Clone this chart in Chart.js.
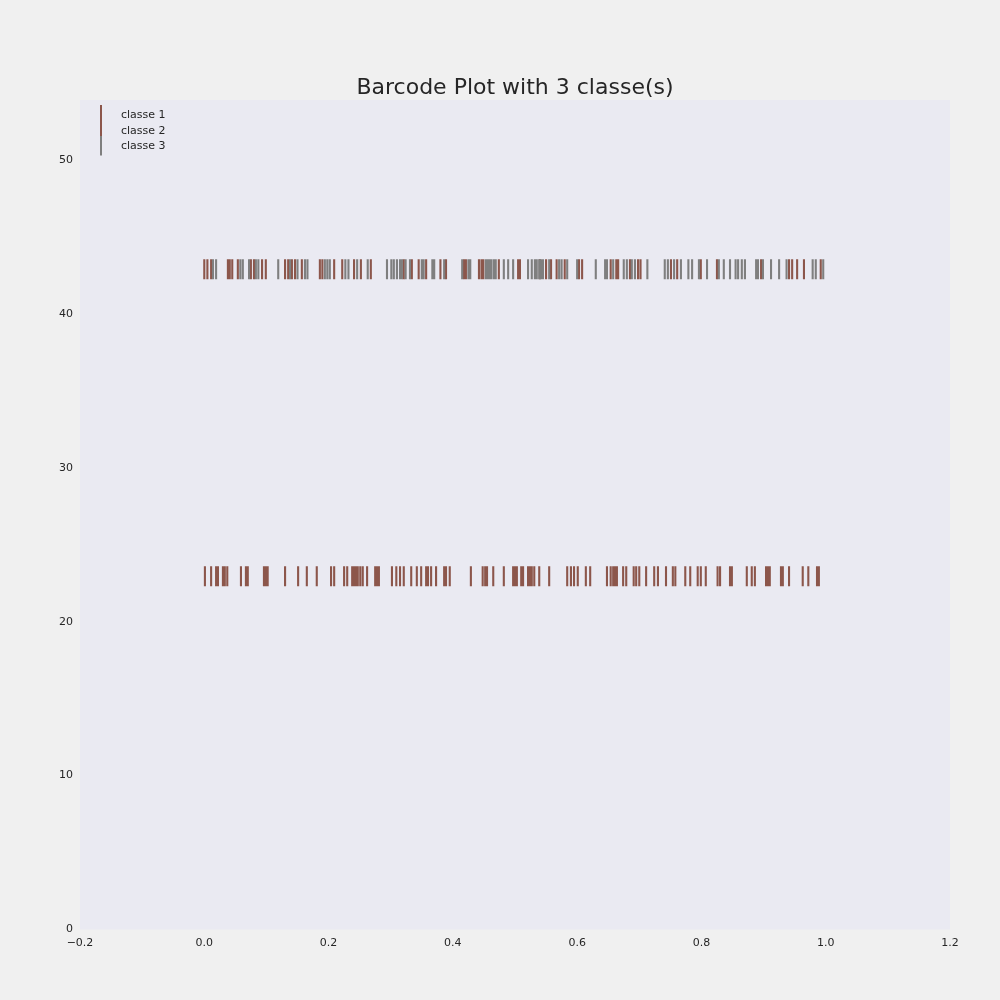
<!DOCTYPE html>
<html>
<head>
<meta charset="utf-8">
<script src="https://cdn.jsdelivr.net/npm/chart.js@4.4.1/dist/chart.umd.min.js"></script>
<style>
html,body{margin:0;padding:0;background:#f0f0f0;}
#wrap{width:1000px;height:1000px;position:relative;}
</style>
</head>
<body>
<div id="wrap"><canvas id="c" width="1000" height="1000"></canvas></div>
<script>
const titleText = "Barcode Plot with 3 classe(s)";
const classNames = ["classe 1", "classe 2", "classe 3"];
const classColors = ["#8c564b", "#8c564b", "#7f7f7f"];
const rowCenters = [22.95, 42.9, 42.9];
const rowLength = 1.3;
const xTicks = [-0.2, 0.0, 0.2, 0.4, 0.6, 0.8, 1.0, 1.2];
const yTicks = [0, 10, 20, 30, 40, 50];

const classe1 = [0.001,0.011,0.019,0.022,0.030,0.033,0.037,0.059,0.067,0.070,0.096,0.099,0.102,0.130,0.151,0.165,0.181,0.204,0.209,0.225,0.230,0.238,0.241,0.244,0.247,0.251,0.255,0.262,0.275,0.278,0.281,0.302,0.309,0.315,0.321,0.333,0.342,0.349,0.357,0.360,0.365,0.373,0.386,0.389,0.395,0.429,0.448,0.452,0.455,0.465,0.482,0.497,0.500,0.503,0.510,0.513,0.521,0.524,0.527,0.531,0.539,0.555,0.584,0.590,0.595,0.601,0.614,0.621,0.648,0.654,0.658,0.661,0.664,0.674,0.679,0.691,0.695,0.700,0.711,0.724,0.730,0.743,0.754,0.758,0.774,0.782,0.794,0.799,0.807,0.826,0.830,0.846,0.849,0.873,0.881,0.886,0.904,0.907,0.910,0.928,0.931,0.941,0.963,0.972,0.986,0.989];
const classe2 = [0.000,0.005,0.011,0.038,0.041,0.045,0.054,0.075,0.080,0.093,0.099,0.130,0.135,0.141,0.146,0.157,0.186,0.190,0.209,0.222,0.241,0.252,0.268,0.321,0.334,0.345,0.357,0.380,0.389,0.418,0.421,0.442,0.446,0.449,0.474,0.505,0.508,0.540,0.550,0.558,0.567,0.580,0.603,0.608,0.654,0.663,0.666,0.685,0.698,0.702,0.751,0.761,0.799,0.825,0.896,0.941,0.946,0.954,0.965,0.992];
const classe3 = [0.014,0.019,0.058,0.062,0.072,0.083,0.087,0.119,0.138,0.150,0.162,0.166,0.194,0.198,0.202,0.227,0.232,0.246,0.263,0.294,0.301,0.305,0.310,0.315,0.318,0.324,0.331,0.350,0.353,0.367,0.370,0.386,0.415,0.425,0.428,0.453,0.456,0.459,0.462,0.466,0.469,0.482,0.489,0.497,0.521,0.527,0.532,0.535,0.539,0.542,0.545,0.555,0.571,0.575,0.584,0.600,0.630,0.645,0.648,0.658,0.675,0.680,0.688,0.693,0.713,0.741,0.746,0.756,0.767,0.779,0.785,0.796,0.809,0.828,0.836,0.846,0.855,0.859,0.865,0.870,0.888,0.891,0.899,0.912,0.925,0.937,0.979,0.984,0.996];

const classValues = [classe1, classe2, classe3];

function segments(xs, c) {
  const out = [];
  xs.forEach(x => {
    out.push({x: x, y: c - rowLength / 2});
    out.push({x: x, y: c + rowLength / 2});
    out.push({x: x, y: null});
  });
  return out;
}

const datasets = classValues.map((vals, i) => ({
  label: classNames[i],
  data: segments(vals, rowCenters[i]),
  showLine: true,
  spanGaps: false,
  borderColor: classColors[i],
  backgroundColor: classColors[i],
  borderWidth: 2.1,
  borderCapStyle: 'butt',
  pointRadius: 0,
  pointHoverRadius: 0,
  order: 3 - i
}));

const FONT = "'DejaVu Sans', sans-serif";

const bgPlugin = {
  id: 'bg',
  beforeDraw(chart) {
    const {ctx, chartArea: a} = chart;
    ctx.save();
    ctx.fillStyle = '#f0f0f0';
    ctx.fillRect(0, 0, chart.width, chart.height);
    ctx.fillStyle = '#eaeaf2';
    ctx.fillRect(a.left, a.top, a.right - a.left, a.bottom - a.top);
    ctx.restore();
  },
  afterDraw(chart) {
    const {ctx, chartArea: a} = chart;
    ctx.save();
    ctx.fillStyle = '#262626';
    ctx.font = "22px " + FONT;
    ctx.textAlign = 'center';
    ctx.textBaseline = 'middle';
    ctx.fillText(titleText, (a.left + a.right) / 2, 88);
    // legend
    ctx.font = "11px " + FONT;
    ctx.textAlign = 'left';
    const ys = [114.5, 130, 145.5];
    classNames.forEach((n, i) => {
      ctx.strokeStyle = classColors[i];
      ctx.lineWidth = 2;
      ctx.beginPath();
      ctx.moveTo(a.left + 21, ys[i] - 9.5);
      ctx.lineTo(a.left + 21, ys[i] + 10);
      ctx.stroke();
      ctx.fillStyle = '#262626';
      ctx.fillText(n, a.left + 41, ys[i] + 1);
    });
    ctx.restore();
  }
};

new Chart(document.getElementById('c'), {
  type: 'scatter',
  data: { datasets },
  options: {
    responsive: false,
    animation: false,
    events: [],
    layout: { padding: { left: 0, right: 50, top: 100, bottom: 0 } },
    plugins: { legend: { display: false }, tooltip: { enabled: false }, title: { display: false } },
    scales: {
      x: {
        type: 'linear',
        min: -0.2, max: 1.2,
        afterBuildTicks(s) { s.ticks = xTicks.map(v => ({value: v})); },
        afterFit(s) { s.height = 70.5; },
        grid: { display: false, drawTicks: false },
        border: { display: false },
        ticks: {
          padding: 7,
          color: '#262626',
          font: { family: FONT, size: 11 },
          callback: v => (v < 0 ? '\u2212' : '') + Math.abs(v).toFixed(1)
        }
      },
      y: {
        type: 'linear',
        min: 0, max: 53.9,
        afterBuildTicks(s) { s.ticks = yTicks.map(v => ({value: v})); },
        afterFit(s) { s.width = 80; },
        grid: { display: false, drawTicks: false },
        border: { display: false },
        ticks: {
          padding: 7,
          color: '#262626',
          font: { family: FONT, size: 11 },
          callback: v => String(v)
        }
      }
    }
  },
  plugins: [bgPlugin]
});
</script>
</body>
</html>
